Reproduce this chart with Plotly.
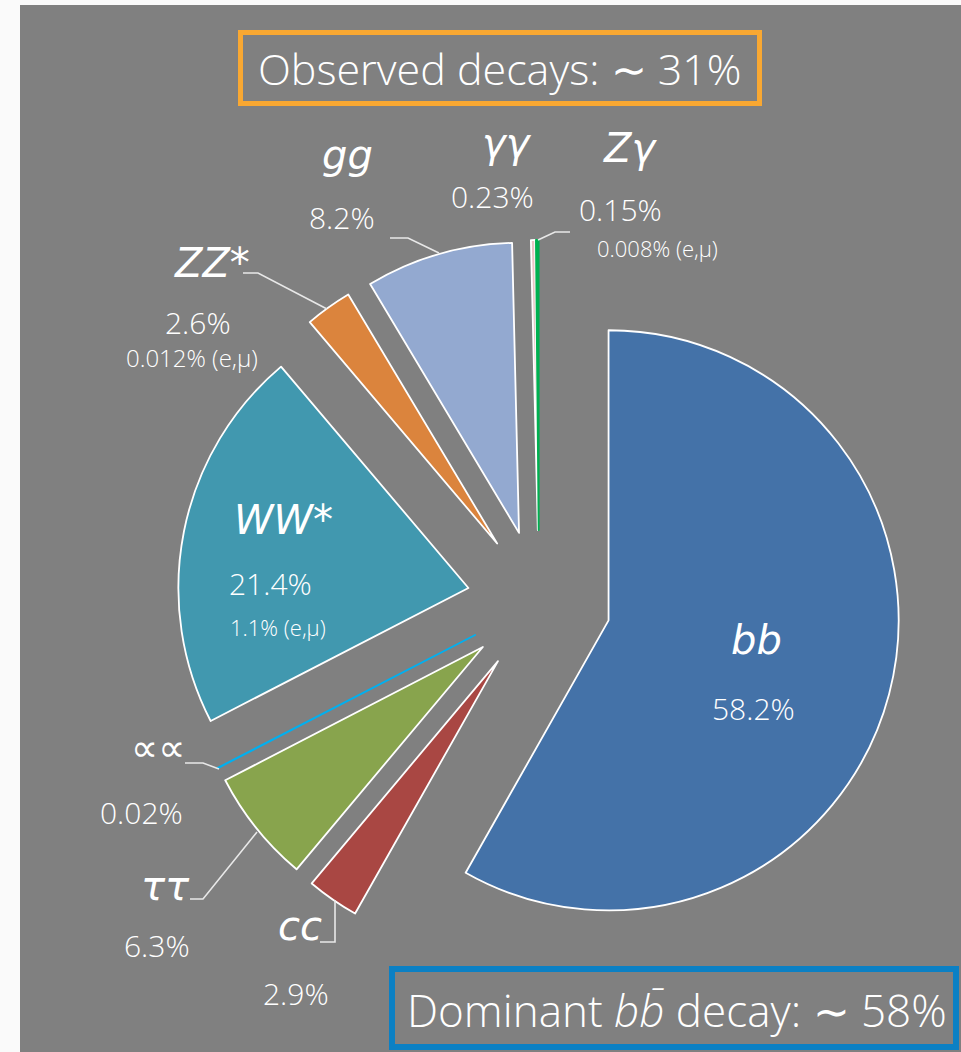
import plotly.graph_objects as go

W, H = 961, 1052


def px(x):
    return x / W


def py(y):
    return 1 - y / H


# ---------------- data ----------------
channels = ["bb", "cc", "ττ", "μμ", "WW*", "ZZ*", "gg", "γγ", "Zγ"]
display_names = ["bb", "cc", "ττ", "∝∝", "WW*", "ZZ*", "gg", "γγ", "Zγ"]
branching = [58.2, 2.9, 6.3, 0.02, 21.4, 2.6, 8.2, 0.23, 0.15]
pct_labels = ["58.2%", "2.9%", "6.3%", "0.02%", "21.4%", "2.6%", "8.2%", "0.23%", "0.15%"]
lepton_labels = ["", "", "", "", "1.1% (e,μ)", "0.012% (e,μ)", "", "", "0.008% (e,μ)"]
slice_colors = ["#4472A8", "#A94743", "#88A44D", "#00B0F0", "#4198AF",
                "#DB843D", "#93A9D0", "#E8C4C4", "#00B050"]
edge_colors = ["white", "white", "white", "#00B0F0", "white",
               "white", "white", "white", "#00B050"]
observed_text = "Observed decays: ∼ 31%"
dominant_text = "Dominant <i>b</i><i>b̄</i> decay: ∼ 58%"

# ---------------- layout helpers (positions, not data) ----------------
PULL = 0.248
name_pos = {  # pixel centres of the channel names
    "bb": (756, 640), "cc": (300, 926), "ττ": (165, 886), "μμ": (158, 748),
    "WW*": (283, 520), "ZZ*": (212, 263), "gg": (347, 155), "γγ": (507, 143), "Zγ": (630, 148),
}
pct_pos = {
    "bb": (753, 708), "cc": (296, 993), "ττ": (157, 945), "μμ": (141, 812),
    "WW*": (270, 583), "ZZ*": (198, 322), "gg": (342, 217), "γγ": (492, 197), "Zγ": (620, 210),
}
sub_pos = {"WW*": (278, 627), "ZZ*": (192, 358), "Zγ": (657, 248)}
sub_size = {"WW*": 22, "ZZ*": 24, "Zγ": 22}
leaders = [
    [(390, 238), (408, 238), (439, 253)],
    [(243, 273), (258, 273), (327, 309)],
    [(538, 240), (555, 232), (570, 232)],
    [(185, 763), (203, 763), (219, 769)],
    [(190, 899), (203, 899), (257, 832)],
    [(320, 942), (335, 942), (335, 900)],
]

fig = go.Figure()
fig.add_trace(go.Pie(
    labels=channels,
    values=branching,
    sort=False,
    direction="clockwise",
    rotation=0,
    pull=[PULL] * len(channels),
    marker=dict(colors=slice_colors, line=dict(color=edge_colors, width=1.8)),
    textinfo="none",
    hoverinfo="label+value",
    showlegend=False,
    domain=dict(x=[px(177), px(901)], y=[py(964), py(240)]),
))

NAME_FONT = "DejaVu Sans"
PCT_FONT = "Open Sans"
annotations = []
for ch, name, pct, sub in zip(channels, display_names, pct_labels, lepton_labels):
    nx, ny = name_pos[ch]
    size = 40
    if ch == "μμ":
        size = 38
    annotations.append(dict(
        x=px(nx), y=py(ny), xref="paper", yref="paper", showarrow=False,
        text=f"<i>{name}</i>", xanchor="center", yanchor="middle",
        font=dict(family=NAME_FONT, size=size, color="white"),
    ))
    qx, qy = pct_pos[ch]
    annotations.append(dict(
        x=px(qx), y=py(qy), xref="paper", yref="paper", showarrow=False,
        text=pct, xanchor="center", yanchor="middle",
        font=dict(family=PCT_FONT, size=30, color="white", weight=300),
    ))
    if sub:
        sx, sy = sub_pos[ch]
        annotations.append(dict(
            x=px(sx), y=py(sy), xref="paper", yref="paper", showarrow=False,
            text=sub, xanchor="center", yanchor="middle",
            font=dict(family=PCT_FONT, size=sub_size[ch], color="white", weight=300),
        ))

annotations.append(dict(
    x=px(500), y=py(68), xref="paper", yref="paper", showarrow=False,
    text=observed_text, xanchor="center", yanchor="middle",
    font=dict(family=PCT_FONT, size=43, color="white", weight=300),
))
annotations.append(dict(
    x=px(677), y=py(1010), xref="paper", yref="paper", showarrow=False,
    text=dominant_text, xanchor="center", yanchor="middle",
    font=dict(family=PCT_FONT, size=44, color="white", weight=300),
))

shapes = [
    dict(type="rect", xref="paper", yref="paper", x0=px(20), x1=1, y0=0, y1=py(5),
         fillcolor="#808080", line=dict(width=0), layer="below"),
    dict(type="rect", xref="paper", yref="paper", x0=px(240.5), x1=px(759.5),
         y0=py(103.5), y1=py(32.5), line=dict(color="#F9A832", width=5)),
    dict(type="rect", xref="paper", yref="paper", x0=px(392), x1=px(956),
         y0=py(1047), y1=py(969), line=dict(color="#0B80C4", width=6)),
]
for pts in leaders:
    path = "M" + " L".join(f"{px(x):.5f},{py(y):.5f}" for x, y in pts)
    shapes.append(dict(type="path", xref="paper", yref="paper", path=path,
                       line=dict(color="#E8E8E8", width=1.6)))

fig.update_layout(
    width=W, height=H,
    margin=dict(l=0, r=0, t=0, b=0),
    paper_bgcolor="#FAFAFA",
    plot_bgcolor="#808080",
    annotations=annotations,
    shapes=shapes,
)

fig.write_html(
    "out.html",
    config={"displayModeBar": False},
    post_script="document.body.style.margin='0';document.body.style.background='#FAFAFA';document.body.style.overflow='hidden';",
)
